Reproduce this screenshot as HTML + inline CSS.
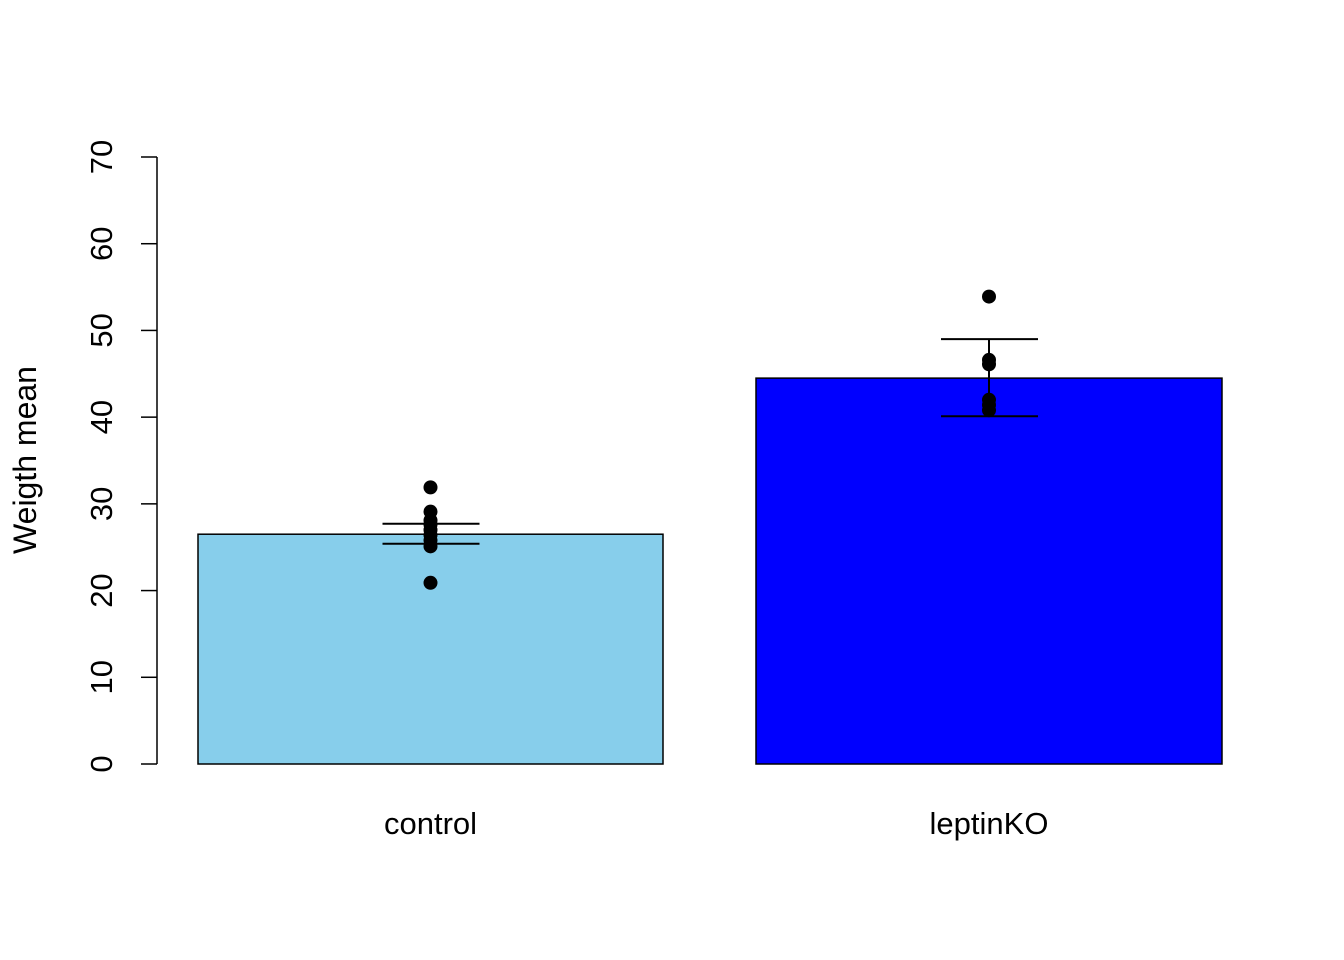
<!DOCTYPE html>
<html><head><meta charset="utf-8"><style>
body{margin:0;background:#fff}
svg{display:block;font-family:"Liberation Sans",Arial,sans-serif}
</style></head><body>
<svg id="chart" width="1344" height="960"></svg>
<script>
const categories=["control","leptinKO"];
const means=[26.5,44.5];
const errUpper=[27.7,49.0];
const errLower=[25.4,40.1];
const pointsControl=[31.9,29.1,28.1,27.6,27.0,26.4,25.8,25.1,20.9];
const pointsLeptin=[53.9,46.6,46.1,42.0,41.4,40.8];
const yTicks=[0,10,20,30,40,50,60,70];
const colors=["#87CEEB","#0000FF"];

const NS="http://www.w3.org/2000/svg";
const svg=document.getElementById('chart');
const y=v=>764-v*(607/70);
const barLeft=[198,756],barW=[465,466];
function mk(t,a,p){const e=document.createElementNS(NS,t);for(const k in a)e.setAttribute(k,a[k]);(p||svg).appendChild(e);return e;}
const ax=mk('g',{});


mk('line',{x1:157,x2:157,y1:y(0),y2:y(70),stroke:'#000','stroke-width':1.5},ax);
yTicks.forEach(t=>{
  mk('line',{x1:141,x2:157,y1:y(t),y2:y(t),stroke:'#000','stroke-width':1.5},ax);
  const tx=mk('text',{x:0,y:0,transform:`translate(112,${y(t)}) rotate(-90)`,'text-anchor':'middle','font-size':31},ax);
  tx.textContent=t;
  
  
});
const yt=mk('text',{transform:'translate(36,460) rotate(-90)','text-anchor':'middle','font-size':32});
yt.textContent='Weigth mean';


const pts=[pointsControl,pointsLeptin];
categories.forEach((c,i)=>{
  const cx=barLeft[i]+barW[i]/2;
  const b=mk('rect',{x:barLeft[i],y:y(means[i]),width:barW[i],height:y(0)-y(means[i]),fill:colors[i],stroke:'#000','stroke-width':1.5});
  
  
  const g=mk('g',{});
  
  
  mk('line',{x1:cx,x2:cx,y1:y(errUpper[i]),y2:y(errLower[i]),stroke:'#000','stroke-width':2},g);
  mk('line',{x1:cx-48,x2:cx+49,y1:y(errUpper[i]),y2:y(errUpper[i]),stroke:'#000','stroke-width':2},g);
  mk('line',{x1:cx-48,x2:cx+49,y1:y(errLower[i]),y2:y(errLower[i]),stroke:'#000','stroke-width':2},g);
  pts[i].forEach(v=>{
    const p=mk('circle',{cx:cx,cy:y(v),r:7,fill:'#000'});
    
    
  });
  const l=mk('text',{x:cx,y:834,'text-anchor':'middle','font-size':31});
  l.textContent=c;
  
  
});
</script>
</body></html>
